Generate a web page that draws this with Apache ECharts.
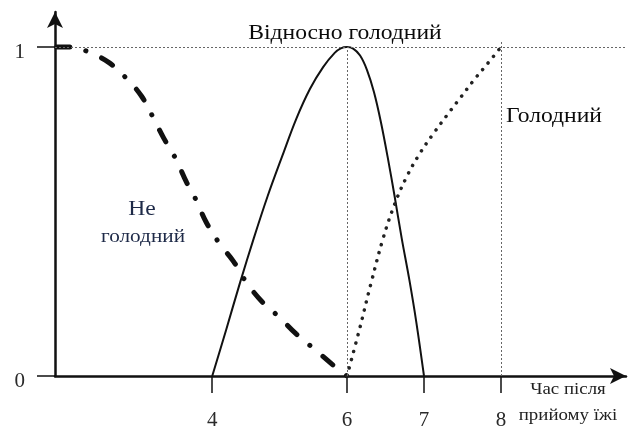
<!DOCTYPE html>
<html>
<head>
<meta charset="utf-8">
<script src="https://cdn.jsdelivr.net/npm/echarts@6/dist/echarts.min.js"></script>
<style>
  html, body { margin: 0; padding: 0; background: #fff; }
  #chart { width: 634px; height: 433px; }
</style>
</head>
<body>
<div id="chart"></div>
<script>
// x is in the drawing's own axis units (tick "4" sits off-scale in the original sketch)
const xTickValues = [4.25, 6, 7, 8];
const xTickLabels = ['4', '6', '7', '8'];
const yTickValues = [0, 1];
const yTickLabels = ['0', '1'];

// "Не голодний" (dash-dot)
const notHungryX = [2.23, 2.44, 2.64, 2.90, 3.13, 3.33, 3.48, 3.62, 3.77, 3.92, 4.04, 4.17, 4.34, 4.53, 4.69, 4.90, 5.12, 5.34, 5.56, 5.82, 6.0];
const notHungryY = [1.0, 1.0, 0.985, 0.954, 0.906, 0.851, 0.787, 0.723, 0.663, 0.587, 0.535, 0.468, 0.404, 0.347, 0.286, 0.225, 0.179, 0.128, 0.085, 0.033, 0];

// "Відносно голодний" (solid)
const relHungryX = [4.25, 4.43, 4.61, 4.79, 4.97, 5.16, 5.34, 5.52, 5.69, 5.84, 5.92, 6.0, 6.08, 6.17, 6.26, 6.35, 6.44, 6.53, 6.62, 6.71, 6.81, 6.90, 7.0];
const relHungryY = [0, 0.140, 0.283, 0.419, 0.547, 0.669, 0.781, 0.873, 0.939, 0.982, 0.996, 1.0, 0.995, 0.974, 0.930, 0.863, 0.772, 0.663, 0.544, 0.419, 0.292, 0.164, 0];

// "Голодний" (dotted)
const hungryX = [6.0, 6.16, 6.31, 6.47, 6.62, 6.78, 6.95, 7.12, 7.30, 7.47, 7.65, 7.82, 8.0];
const hungryY = [0, 0.140, 0.280, 0.419, 0.523, 0.608, 0.678, 0.736, 0.793, 0.845, 0.900, 0.948, 1.0];

// guide lines
const guideLevel = 1;
const guideX = [6, 8];

const zip = (xs, ys) => xs.map((x, i) => [x, ys[i]]);
const serif = 'Liberation Serif';

// the source picture is stretched sideways, so are its words
function note(text, x, y, size, color) {
    return {
        type: 'text', x: x, y: y, scaleX: 1.18,
        style: {
            text: text, font: size + 'px ' + serif, fill: color,
            textAlign: 'center', textVerticalAlign: 'middle',
            align: 'center', verticalAlign: 'middle'
        }
    };
}

var chartDom = document.getElementById('chart');
var myChart = echarts.init(chartDom);

var option = {
    animation: false,
    backgroundColor: '#fff',
    grid: {
        left: 55,
        right: 8,
        top: 12,
        bottom: 57,
        containLabel: false,
        outerBoundsMode: 'none'
    },
    xAxis: {
        type: 'value',
        min: 2.2078,
        max: 9.6234,
        splitLine: { show: false },
        axisLine: {
            onZero: false,
            symbol: ['none', 'arrow'],
            symbolSize: [12, 16],
            lineStyle: { color: '#111', width: 2.5 }
        },
        axisTick: {
            customValues: xTickValues,
            length: 17,
            lineStyle: { color: '#111', width: 1.5 }
        },
        axisLabel: {
            customValues: xTickValues,
            formatter: function (v) {
                var i = xTickValues.findIndex(t => Math.abs(t - v) < 1e-6);
                return i >= 0 ? xTickLabels[i] : '';
            },
            margin: 34,
            fontSize: 21,
            fontFamily: serif,
            color: '#2a2a2a'
        }
    },
    yAxis: {
        type: 'value',
        min: 0,
        max: 1.1064,
        splitLine: { show: false },
        axisLine: {
            show: true,
            onZero: false,
            symbol: ['none', 'arrow'],
            symbolSize: [12, 16],
            lineStyle: { color: '#111', width: 2.5 }
        },
        axisTick: {
            customValues: yTickValues,
            length: 18,
            lineStyle: { color: '#111', width: 1.5 }
        },
        axisLabel: {
            customValues: yTickValues,
            formatter: function (v) {
                var i = yTickValues.findIndex(t => Math.abs(t - v) < 1e-6);
                return i >= 0 ? yTickLabels[i] : '';
            },
            margin: 30,
            verticalAlign: 'top',
            lineHeight: 10,
            fontSize: 21,
            fontFamily: serif,
            color: '#2a2a2a'
        }
    },
    series: [
        {
            name: 'Не голодний',
            type: 'line',
            data: zip(notHungryX, notHungryY),
            showSymbol: false,
            smooth: 0.4,
            lineStyle: { color: '#111', width: 5, type: [13, 17, 0.1, 17], cap: 'round' }
        },
        {
            name: 'Відносно голодний',
            type: 'line',
            data: zip(relHungryX, relHungryY),
            showSymbol: false,
            smooth: 0.35,
            lineStyle: { color: '#111', width: 2 }
        },
        {
            name: 'Голодний',
            type: 'line',
            data: zip(hungryX, hungryY),
            showSymbol: false,
            smooth: 0.4,
            lineStyle: { color: '#222', width: 3.5, type: [0.1, 8.4], cap: 'round' },
            markLine: {
                silent: true,
                symbol: ['none', 'none'],
                label: { show: false },
                lineStyle: { color: '#666', width: 1, type: [2, 2] },
                data: [
                    { yAxis: guideLevel },
                    [{ coord: [guideX[0], 0] }, { coord: [guideX[0], guideLevel] }],
                    [{ coord: [guideX[1], 0] }, { coord: [guideX[1], guideLevel + 0.02] }]
                ]
            }
        }
    ],
    graphic: [
        note('Відносно голодний', 345, 34, 20, '#0a0a0a'),
        note('Голодний', 554, 117, 20, '#0a0a0a'),
        note('Не', 142, 210, 20, '#1e2a48'),
        note('голодний', 143, 237, 18, '#1e2a48'),
        note('Час після', 568, 390, 16, '#222'),
        note('прийому їжі', 568, 416, 16, '#222')
    ]
};

option && myChart.setOption(option);
</script>
</body>
</html>
